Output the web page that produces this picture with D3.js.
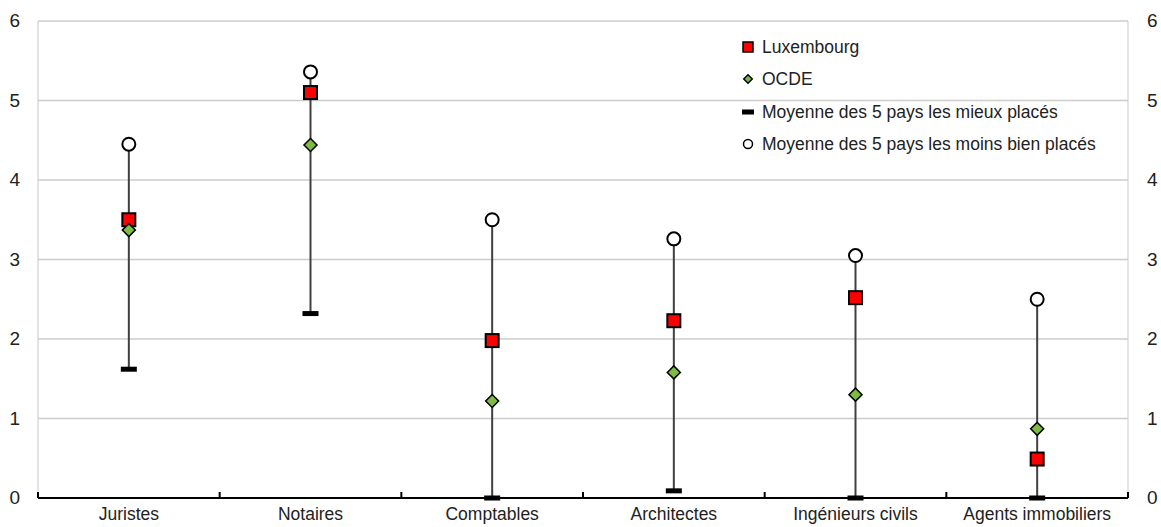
<!DOCTYPE html>
<html>
<head>
<meta charset="utf-8">
<script src="https://cdn.jsdelivr.net/npm/d3@7"></script>
<style>
  body { margin: 0; background: #fff; }
  text { font-family: "Liberation Sans", Arial, sans-serif; fill: #222; }
</style>
</head>
<body>
<svg id="chart" width="1161" height="527"></svg>
<script>
// Professions compared
const categories = ["Juristes", "Notaires", "Comptables", "Architectes", "Ingénieurs civils", "Agents immobiliers"];
// Luxembourg score
const luxembourg = [3.50, 5.10, 1.98, 2.23, 2.52, 0.49];
// OECD average
const ocde = [3.37, 4.44, 1.22, 1.58, 1.30, 0.87];
// Average of the 5 best-placed countries
const best5 = [1.62, 2.32, 0.00, 0.09, 0.00, 0.00];
// Average of the 5 worst-placed countries
const worst5 = [4.45, 5.36, 3.50, 3.26, 3.05, 2.50];
const yTicks = [0, 1, 2, 3, 4, 5, 6];
const legendLabels = ["Luxembourg", "OCDE", "Moyenne des 5 pays les mieux placés", "Moyenne des 5 pays les moins bien placés"];

const svg = d3.select("#chart");
const m = { left: 38, right: 1128, top: 21, bottom: 498 };

const x = d3.scaleBand().domain(categories).range([m.left, m.right]);
const y = d3.scaleLinear().domain([0, 6]).range([m.bottom, m.top]);

// Gridlines
svg.append("g").selectAll("line").data(yTicks.filter(d => d > 0)).join("line")
  .attr("x1", m.left).attr("x2", m.right)
  .attr("y1", d => y(d)).attr("y2", d => y(d))
  .attr("stroke", "#cccccc").attr("stroke-width", 1.5);

// Side borders
svg.append("line").attr("x1", m.left).attr("x2", m.left).attr("y1", m.top).attr("y2", m.bottom)
  .attr("stroke", "#c8c8c8").attr("stroke-width", 1);
svg.append("line").attr("x1", m.right).attr("x2", m.right).attr("y1", m.top).attr("y2", m.bottom)
  .attr("stroke", "#c8c8c8").attr("stroke-width", 1);

// Left / right axis labels
const leftAxis = svg.append("g").attr("transform", `translate(${m.left},0)`)
  .call(d3.axisLeft(y).tickValues(yTicks).tickSize(0).tickPadding(18).tickFormat(d3.format("d")));
const rightAxis = svg.append("g").attr("transform", `translate(${m.right},0)`)
  .call(d3.axisRight(y).tickValues(yTicks).tickSize(0).tickPadding(19).tickFormat(d3.format("d")));
[leftAxis, rightAxis].forEach(a => {
  a.select(".domain").remove();
  a.selectAll("text").attr("font-size", 19).attr("dy", "0.3em")
    .style("font-family", "'Liberation Sans', Arial, sans-serif");
});

// Bottom axis
const xAxis = svg.append("g").attr("transform", `translate(0,${m.bottom})`)
  .call(d3.axisBottom(x).tickSize(0).tickPadding(10));
xAxis.select(".domain").remove();
xAxis.selectAll("text").attr("font-size", 17.5);
svg.append("line").attr("x1", m.left).attr("x2", m.right).attr("y1", m.bottom).attr("y2", m.bottom)
  .attr("stroke", "#000").attr("stroke-width", 2);
const boundaries = categories.map(c => x(c)).concat([m.right]);
svg.append("g").selectAll("line").data(boundaries).join("line")
  .attr("x1", d => d).attr("x2", d => d)
  .attr("y1", m.bottom - 6).attr("y2", m.bottom)
  .attr("stroke", "#000").attr("stroke-width", 2);

const cx = c => x(c) + x.bandwidth() / 2;
const rows = categories.map((c, i) => ({ c, lux: luxembourg[i], oc: ocde[i], lo: best5[i], hi: worst5[i] }));
const g = svg.append("g");

// Range lines
g.selectAll("line.range").data(rows).join("line")
  .attr("x1", d => cx(d.c)).attr("x2", d => cx(d.c))
  .attr("y1", d => y(d.lo)).attr("y2", d => y(d.hi))
  .attr("stroke", "#404040").attr("stroke-width", 2);

// Best-5 bars
g.selectAll("rect.best").data(rows).join("rect")
  .attr("x", d => cx(d.c) - 8).attr("y", d => y(d.lo) - 2.5)
  .attr("width", 16).attr("height", 5).attr("fill", "#000");

// Worst-5 circles
g.selectAll("circle.worst").data(rows).join("circle")
  .attr("cx", d => cx(d.c)).attr("cy", d => y(d.hi)).attr("r", 6.5)
  .attr("fill", "#fff").attr("stroke", "#000").attr("stroke-width", 2);

// Luxembourg squares
g.selectAll("rect.lux").data(rows).join("rect")
  .attr("x", d => cx(d.c) - 6.5).attr("y", d => y(d.lux) - 6.5)
  .attr("width", 13).attr("height", 13)
  .attr("fill", "#ff0000").attr("stroke", "#000").attr("stroke-width", 2);

// OECD diamonds
const diamond = d3.symbol().type(d3.symbolSquare).size(85);
g.selectAll("path.oc").data(rows).join("path")
  .attr("d", diamond)
  .attr("transform", d => `translate(${cx(d.c)},${y(d.oc)}) rotate(45)`)
  .attr("fill", "#7dbb42").attr("stroke", "#000").attr("stroke-width", 1.5);

// Legend
const lx = 748, ly = [47, 79, 112, 144];
const lg = svg.append("g");
lg.append("rect").attr("x", lx - 5).attr("y", ly[0] - 5).attr("width", 10).attr("height", 10)
  .attr("fill", "#ff0000").attr("stroke", "#000").attr("stroke-width", 1.5);
lg.append("path").attr("d", d3.symbol().type(d3.symbolSquare).size(36))
  .attr("transform", `translate(${lx},${ly[1]}) rotate(45)`)
  .attr("fill", "#7dbb42").attr("stroke", "#000").attr("stroke-width", 1.5);
lg.append("rect").attr("x", lx - 6).attr("y", ly[2] - 2.5).attr("width", 12).attr("height", 5).attr("fill", "#000");
lg.append("circle").attr("cx", lx).attr("cy", ly[3]).attr("r", 4.5)
  .attr("fill", "#fff").attr("stroke", "#000").attr("stroke-width", 1.5);
lg.selectAll("text").data(legendLabels).join("text")
  .attr("x", lx + 14).attr("y", (d, i) => ly[i]).attr("dy", "0.35em")
  .attr("font-size", 17.5).text(d => d);
</script>
</body>
</html>
